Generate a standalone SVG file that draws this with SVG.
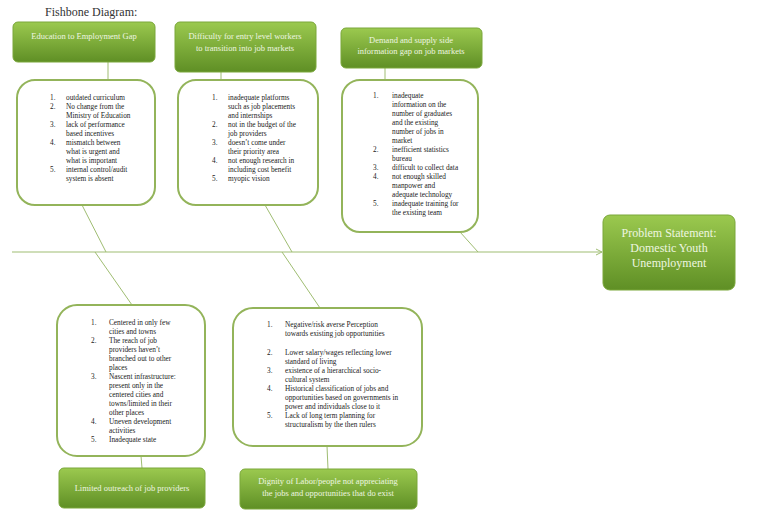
<svg xmlns="http://www.w3.org/2000/svg" width="768" height="518" viewBox="0 0 768 518">
<defs>
<linearGradient id="g" x1="0" y1="0" x2="0" y2="1"><stop offset="0" stop-color="#9bc94f"/><stop offset="1" stop-color="#5f8f25"/></linearGradient>
<marker id="a" markerWidth="8" markerHeight="8" refX="7" refY="4" orient="auto"><path d="M1,1 L7,4 L1,7" fill="none" stroke="#9fbd72" stroke-width="1"/></marker>
</defs>
<style>
.gb{fill:url(#g);stroke:#7aa73a;stroke-width:1}
.wb{fill:#fff;stroke:#93b45a;stroke-width:2}
.gt{font-family:"Liberation Serif",serif;font-size:8.5px;fill:#eef6e0;text-anchor:middle}
.big{font-size:12px}
.t{font-family:"Liberation Serif",serif;font-size:7.3px;fill:#222}
.c{stroke:#9fbd72;stroke-width:1;fill:none}
</style>
<rect width="768" height="518" fill="#fff"/>
<text x="45" y="16" font-family="Liberation Serif,serif" font-size="12" fill="#333">Fishbone Diagram:</text>
<g id="connectors">
<line class="c" x1="12" y1="252" x2="602" y2="252" marker-end="url(#a)"/>
<line class="c" x1="108" y1="62" x2="108" y2="80"/>
<line class="c" x1="221" y1="72" x2="221" y2="80"/>
<line class="c" x1="385" y1="68" x2="385" y2="80"/>
<line class="c" x1="141" y1="456" x2="142" y2="468"/>
<line class="c" x1="327" y1="446" x2="328" y2="469"/>
<line class="c" x1="82" y1="205" x2="106" y2="252"/>
<line class="c" x1="265" y1="205" x2="292" y2="252"/>
<line class="c" x1="460" y1="232" x2="478" y2="252"/>
<line class="c" x1="95" y1="252" x2="132" y2="305"/>
<line class="c" x1="282" y1="252" x2="320" y2="308"/>
</g>
<g id="cat1"><rect class="gb" x="13" y="22" width="142" height="40" rx="5"/><text class="gt" x="84" y="39">Education to Employment Gap</text></g>
<g id="cat2"><rect class="gb" x="175" y="22" width="141" height="50" rx="5"/><text class="gt" x="245" y="39">Difficulty for entry level workers</text><text class="gt" x="245" y="51">to transition into job markets</text></g>
<g id="cat3"><rect class="gb" x="341" y="28" width="141" height="40" rx="5"/><text class="gt" x="411" y="43">Demand and supply side</text><text class="gt" x="411" y="54">information gap on job markets</text></g>
<g id="problem"><rect class="gb" x="603" y="215" width="132" height="75" rx="7"/><text class="gt big" x="669" y="237">Problem Statement:</text><text class="gt big" x="669" y="252">Domestic Youth</text><text class="gt big" x="669" y="267">Unemployment</text></g>
<g id="cat4"><rect class="gb" x="59" y="468" width="146" height="40" rx="5"/><text class="gt" x="132" y="491">Limited outreach of job providers</text></g>
<g id="cat5"><rect class="gb" x="240" y="469" width="177" height="40" rx="5"/><text class="gt" x="328" y="484">Dignity of Labor/people not appreciating</text><text class="gt" x="328" y="496">the jobs and opportunities that do exist</text></g>
<g id="list1"><rect class="wb" x="17" y="80" width="138" height="125" rx="18"/>
<text class="t"><tspan x="50" y="100">1.</tspan><tspan x="66" y="100">outdated curriculum</tspan><tspan x="50" y="109">2.</tspan><tspan x="66" y="109">No change from the</tspan><tspan x="66" y="118">Ministry of Education</tspan><tspan x="50" y="127">3.</tspan><tspan x="66" y="127">lack of performance</tspan><tspan x="66" y="136">based incentives</tspan><tspan x="50" y="145">4.</tspan><tspan x="66" y="145">mismatch between</tspan><tspan x="66" y="154">what is urgent and</tspan><tspan x="66" y="163">what is important</tspan><tspan x="50" y="172">5.</tspan><tspan x="66" y="172">internal control/audit</tspan><tspan x="66" y="181">system is absent</tspan></text></g>
<g id="list2"><rect class="wb" x="178" y="80" width="140" height="125" rx="18"/>
<text class="t"><tspan x="212" y="100">1.</tspan><tspan x="228" y="100">inadequate platforms</tspan><tspan x="228" y="109">such as job placements</tspan><tspan x="228" y="118">and internships</tspan><tspan x="212" y="127">2.</tspan><tspan x="228" y="127">not in the budget of the</tspan><tspan x="228" y="136">job providers</tspan><tspan x="212" y="145">3.</tspan><tspan x="228" y="145">doesn’t come under</tspan><tspan x="228" y="154">their priority area</tspan><tspan x="212" y="163">4.</tspan><tspan x="228" y="163">not enough research in</tspan><tspan x="228" y="172">including cost benefit</tspan><tspan x="212" y="181">5.</tspan><tspan x="228" y="181">myopic vision</tspan></text></g>
<g id="list3"><rect class="wb" x="342" y="80" width="136" height="152" rx="18"/>
<text class="t"><tspan x="373" y="98">1.</tspan><tspan x="392" y="98">inadequate</tspan><tspan x="392" y="107">information on the</tspan><tspan x="392" y="116">number of graduates</tspan><tspan x="392" y="125">and the existing</tspan><tspan x="392" y="134">number of jobs in</tspan><tspan x="392" y="143">market</tspan><tspan x="373" y="152">2.</tspan><tspan x="392" y="152">inefficient statistics</tspan><tspan x="392" y="161">bureau</tspan><tspan x="373" y="170">3.</tspan><tspan x="392" y="170">difficult to collect data</tspan><tspan x="373" y="179">4.</tspan><tspan x="392" y="179">not enough skilled</tspan><tspan x="392" y="188">manpower and</tspan><tspan x="392" y="197">adequate technology</tspan><tspan x="373" y="206">5.</tspan><tspan x="392" y="206">inadequate training for</tspan><tspan x="392" y="215">the existing team</tspan></text></g>
<g id="list4"><rect class="wb" x="57" y="305" width="148" height="151" rx="20"/>
<text class="t"><tspan x="91" y="325">1.</tspan><tspan x="109" y="325">Centered in only few</tspan><tspan x="109" y="334">cities and towns</tspan><tspan x="91" y="343">2.</tspan><tspan x="109" y="343">The reach of job</tspan><tspan x="109" y="352">providers haven’t</tspan><tspan x="109" y="361">branched out to other</tspan><tspan x="109" y="370">places</tspan><tspan x="91" y="379">3.</tspan><tspan x="109" y="379">Nascent infrastructure:</tspan><tspan x="109" y="388">present only in the</tspan><tspan x="109" y="397">centered cities and</tspan><tspan x="109" y="406">towns/limited in their</tspan><tspan x="109" y="415">other places</tspan><tspan x="91" y="424">4.</tspan><tspan x="109" y="424">Uneven development</tspan><tspan x="109" y="433">activities</tspan><tspan x="91" y="442">5.</tspan><tspan x="109" y="442">Inadequate state</tspan></text></g>
<g id="list5"><rect class="wb" x="233" y="308" width="189" height="138" rx="20"/>
<text class="t"><tspan x="267" y="327">1.</tspan><tspan x="285" y="327">Negative/risk averse Perception</tspan><tspan x="285" y="336">towards existing job opportunities</tspan><tspan x="267" y="355">2.</tspan><tspan x="285" y="355">Lower salary/wages reflecting lower</tspan><tspan x="285" y="364">standard of living</tspan><tspan x="267" y="373">3.</tspan><tspan x="285" y="373">existence of a hierarchical socio-</tspan><tspan x="285" y="382">cultural system</tspan><tspan x="267" y="391">4.</tspan><tspan x="285" y="391">Historical classification of jobs and</tspan><tspan x="285" y="400">opportunities based on governments in</tspan><tspan x="285" y="409">power and individuals close to it</tspan><tspan x="267" y="418">5.</tspan><tspan x="285" y="418">Lack of long term planning for</tspan><tspan x="285" y="427">structuralism by the then rulers</tspan></text></g>
</svg>
